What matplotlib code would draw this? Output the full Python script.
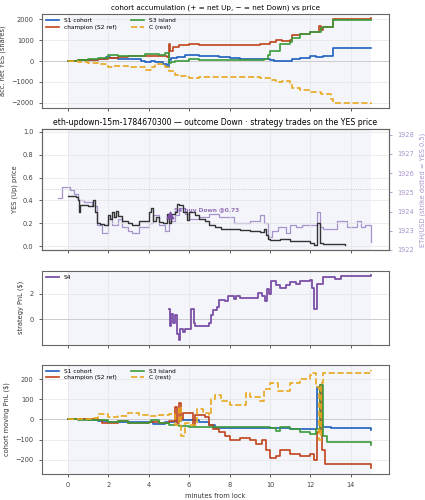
import matplotlib
matplotlib.use("Agg")
import matplotlib.pyplot as plt

# ---- accumulation (net YES shares) ----
acc_s1_t = [0, 0.5, 1.0, 1.5, 1.9, 2.1, 2.5, 3.0, 3.6, 3.8, 4.1, 4.3, 4.7, 4.9, 5.0, 5.1, 5.4, 5.8, 6.0, 6.5, 7.0, 7.5, 8.0, 8.5, 9.0, 9.5, 10.0, 10.2, 10.5, 11.0, 11.1, 11.5, 12.0, 12.3, 12.6, 13.1, 15.0]
acc_s1_v = [0, 30, 60, 80, 200, 150, 100, 100, 0, -60, 0, -50, -150, -300, 50, 150, 200, 300, 280, 250, 250, 200, 150, 100, 80, 80, 60, 0, -20, -20, 100, 150, 250, 200, 250, 600, 600]
acc_ch_t = [0, 0.5, 1.0, 1.5, 2.0, 2.5, 3.0, 3.5, 4.0, 4.5, 4.9, 5.0, 5.05, 5.2, 5.5, 6.0, 6.5, 7.0, 7.5, 8.0, 8.5, 9.0, 9.5, 10.0, 10.3, 10.6, 11.0, 11.1, 11.5, 12.0, 12.4, 12.5, 12.6, 13.1, 15.0]
acc_ch_v = [0, 30, 60, 80, 120, 200, 220, 230, 250, 220, 180, 800, 500, 650, 750, 800, 770, 750, 750, 760, 760, 780, 800, 900, 1000, 950, 1000, 1250, 1300, 1400, 1650, 1500, 1600, 2000, 2050]
acc_s3_t = [0, 0.5, 1.0, 1.5, 2.0, 2.5, 3.0, 3.5, 3.8, 4.2, 4.5, 4.8, 5.0, 5.1, 5.3, 6.0, 6.5, 7.0, 8.0, 9.0, 9.7, 9.9, 10.0, 10.5, 11.0, 11.1, 11.5, 12.0, 12.5, 12.6, 13.1, 15.0]
acc_s3_v = [0, 40, 80, 120, 300, 260, 250, 250, 350, 320, 300, 400, -100, -50, 0, 100, 50, 50, 50, 50, 100, 300, 500, 800, 900, 1100, 1300, 1400, 1550, 1600, 1950, 1950]
acc_c_t = [0, 0.5, 1.0, 1.5, 2.0, 2.3, 3.0, 3.6, 3.8, 4.1, 4.3, 4.8, 5.0, 5.3, 5.6, 6.0, 6.5, 7.0, 8.0, 9.0, 9.5, 10.0, 10.3, 10.6, 11.0, 11.1, 11.5, 12.0, 12.5, 13.0, 13.1, 15.0]
acc_c_v = [0, -40, -100, -150, -280, -250, -270, -300, -450, -300, -150, -280, -500, -650, -700, -800, -780, -750, -750, -760, -800, -900, -1000, -950, -1050, -1300, -1400, -1500, -1550, -1800, -2000, -2050]

# ---- YES (Up) price and ETH/USD ----
yes_t = [0, 0.4, 0.5, 0.55, 0.6, 1.0, 1.25, 1.35, 1.45, 1.6, 1.8, 2.0, 2.1, 2.2, 2.3, 2.4, 2.5, 2.7, 3.0, 3.2, 3.5, 3.9, 4.0, 4.1, 4.2, 4.35, 4.5, 4.7, 4.9, 5.0, 5.1, 5.3, 5.4, 5.5, 5.7, 5.9, 6.0, 6.3, 6.5, 6.8, 7.0, 7.3, 7.6, 8.0, 8.5, 9.0, 9.5, 9.7, 9.8, 9.9, 10.0, 10.5, 11.0, 11.5, 12.0, 12.2, 12.35, 12.45, 12.6, 13.0, 13.7]
yes_v = [0.44, 0.43, 0.40, 0.30, 0.36, 0.35, 0.40, 0.30, 0.20, 0.19, 0.18, 0.27, 0.24, 0.30, 0.25, 0.31, 0.26, 0.22, 0.20, 0.18, 0.22, 0.22, 0.30, 0.33, 0.22, 0.25, 0.21, 0.20, 0.28, 0.20, 0.28, 0.30, 0.37, 0.36, 0.30, 0.23, 0.30, 0.27, 0.24, 0.22, 0.18, 0.17, 0.15, 0.15, 0.14, 0.13, 0.12, 0.15, 0.10, 0.06, 0.05, 0.06, 0.04, 0.04, 0.03, 0.01, 0.20, 0.03, 0.02, 0.02, 0.01]
eth_t = [-0.5, -0.3, 0.1, 0.3, 0.5, 0.8, 1.2, 1.45, 1.7, 2.0, 2.2, 2.5, 2.7, 3.0, 3.2, 3.5, 4.0, 4.2, 4.5, 4.8, 5.0, 5.3, 5.5, 5.8, 6.0, 6.5, 7.0, 7.5, 8.2, 9.0, 9.5, 9.7, 9.9, 10.1, 10.4, 10.8, 11.0, 11.3, 11.6, 12.0, 12.35, 12.45, 12.6, 13.0, 13.3, 13.8, 14.3, 14.5, 14.7, 15.0]
eth_v = [1924.7, 1925.3, 1925.1, 1924.9, 1924.6, 1924.5, 1924.3, 1923.3, 1922.9, 1923.6, 1923.3, 1923.6, 1923.2, 1923.0, 1922.9, 1923.2, 1923.4, 1923.8, 1923.3, 1923.0, 1923.5, 1923.8, 1924.2, 1923.9, 1923.6, 1923.7, 1923.9, 1923.7, 1923.4, 1923.5, 1923.8, 1923.4, 1922.7, 1923.0, 1923.2, 1922.9, 1923.3, 1923.2, 1923.3, 1923.3, 1924.0, 1923.2, 1923.1, 1923.1, 1923.5, 1923.2, 1923.5, 1923.2, 1923.3, 1922.4]
trade_t = [5.05]
trade_p = [0.27]
trade_txt = "S4 buy Down @0.73"

# ---- S4 strategy PnL ----
s4_t = [5.0, 5.05, 5.1, 5.2, 5.3, 5.4, 5.5, 5.55, 5.7, 5.8, 6.0, 6.1, 6.25, 6.3, 6.8, 7.0, 7.1, 7.2, 7.4, 7.5, 7.8, 7.9, 8.2, 8.3, 8.5, 9.3, 9.4, 9.6, 9.75, 9.85, 9.95, 10.05, 10.3, 10.5, 10.8, 11.0, 11.3, 11.5, 12.0, 12.1, 12.2, 12.35, 12.6, 13.2, 13.5, 15.0]
s4_v = [0.8, -0.5, 0.4, -0.3, 0.3, -1.2, -1.6, -0.8, -1.0, -0.8, -0.8, 0.8, -0.3, -0.5, -0.5, -0.3, 0.3, 0.7, 1.0, 1.5, 1.4, 1.8, 1.6, 1.8, 1.7, 1.7, 2.1, 1.8, 1.4, 2.4, 2.0, 3.0, 2.7, 2.5, 2.7, 2.9, 2.8, 3.0, 3.1, 2.5, 0.8, 2.8, 3.3, 3.2, 3.4, 3.5]

# ---- cohort moving PnL ----
pnl_s1_t = [0, 1.0, 1.5, 2.0, 3.0, 4.0, 4.2, 4.8, 5.3, 5.6, 6.0, 6.5, 7.0, 7.3, 8.0, 9.0, 10.0, 11.0, 12.0, 12.35, 12.45, 12.6, 13.0, 14.95, 15.0]
pnl_s1_v = [0, -3, -10, -15, -15, -15, -22, -15, -10, -2, -5, -15, -30, -45, -45, -45, -45, -48, -50, 160, -30, -38, -45, -45, -52]
pnl_ch_t = [0, 1.5, 1.7, 2.5, 3.0, 4.0, 4.5, 5.0, 5.3, 5.4, 5.5, 5.6, 5.7, 6.0, 6.2, 6.3, 6.8, 7.0, 7.2, 7.5, 7.8, 8.0, 8.5, 9.0, 9.3, 9.6, 9.8, 10.0, 10.3, 10.5, 11.0, 11.5, 12.0, 12.2, 12.35, 12.45, 12.55, 12.7, 14.95, 15.0]
pnl_ch_v = [0, -5, -20, -10, -20, -15, -20, -10, 60, -20, 80, 0, 30, 30, -30, 20, 10, -30, -50, -60, -80, -100, -90, -100, -120, -100, -150, -190, -180, -150, -170, -180, -170, -200, -60, 170, -150, -220, -220, -240]
pnl_s3_t = [0, 0.5, 1.5, 2.0, 2.5, 3.0, 4.0, 4.1, 4.5, 5.0, 5.5, 6.0, 7.0, 8.0, 9.5, 10.0, 10.3, 10.5, 11.0, 11.5, 12.0, 12.3, 12.45, 12.6, 12.8, 14.95, 15.0]
pnl_s3_v = [0, -5, -5, -15, -10, -20, -15, -5, -20, -30, -35, -40, -40, -40, -40, -45, -55, -40, -50, -60, -70, -50, 170, -80, -110, -110, -125]
pnl_c_t = [0, 1.0, 1.2, 1.5, 2.0, 2.5, 3.0, 3.5, 4.0, 4.5, 5.0, 5.3, 5.5, 5.6, 5.8, 6.0, 6.4, 6.7, 7.0, 7.1, 7.3, 7.6, 8.0, 8.5, 8.8, 9.0, 9.5, 9.7, 10.0, 10.4, 11.0, 11.5, 12.0, 12.1, 12.3, 12.4, 12.5, 12.6, 13.0, 14.95, 15.0]
pnl_c_v = [0, 0, 5, 25, 10, 15, 30, 20, 15, 20, 25, -30, 60, -80, -20, -30, 50, 30, 20, 100, 120, 90, 70, 70, 130, 110, 90, 150, 180, 140, 180, 200, 220, 230, 160, -100, 180, 230, 230, 230, 245]

C_S1 = "#1f5fbf"
C_CH = "#c0441a"
C_S3 = "#3a9a3a"
C_C = "#e8a820"
C_S4 = "#7b4fa6"
C_ETH = "#a894cc"
SHADE = "#f3f5fa"

plt.rcParams.update({
    "font.size": 5,
    "axes.edgecolor": "#666666",
    "axes.linewidth": 0.8,
    "xtick.color": "#444444",
    "ytick.color": "#444444",
    "xtick.labelsize": 4.8,
    "ytick.labelsize": 4.8,
    "axes.labelsize": 4.8,
    "axes.labelcolor": "#333333",
    "xtick.major.size": 2.5,
    "ytick.major.size": 2.5,
    "xtick.major.width": 0.6,
    "ytick.major.width": 0.6,
})

fig = plt.figure(figsize=(4.25, 5), dpi=100)
L, R = 0.099, 0.915
ax1 = fig.add_axes([L, 0.784, R - L, 0.188])
ax2 = fig.add_axes([L, 0.500, R - L, 0.242], sharex=ax1)
ax3 = fig.add_axes([L, 0.310, R - L, 0.149], sharex=ax1)
ax4 = fig.add_axes([L, 0.053, R - L, 0.218], sharex=ax1)

# right-hand ETH axis sits underneath the YES axis
ax2r = ax2.twinx()
ax2r.set_zorder(0)
ax2.set_zorder(1)
ax2.patch.set_visible(False)
ax2r.patch.set_visible(True)
ax2r.patch.set_facecolor("white")

for ax in (ax1, ax2r, ax3, ax4):
    ax.axvspan(0, 15, color=SHADE, zorder=0, lw=0)
for ax in (ax1, ax2, ax3, ax4):
    ax.grid(True, color="#e4e4e4", lw=0.5, zorder=0.5)
    ax.set_axisbelow(True)
    ax.set_xticks(range(0, 16, 2))

lw = 1.2
step = dict(drawstyle="steps-post", lw=lw)

# panel 1
ax1.axhline(0, color="#cccccc", lw=0.7, zorder=1)
ax1.plot(acc_s1_t, acc_s1_v, color=C_S1, label="S1 cohort", **step)
ax1.plot(acc_ch_t, acc_ch_v, color=C_CH, label="champion (S2 ref)", **step)
ax1.plot(acc_s3_t, acc_s3_v, color=C_S3, label="S3 island", **step)
ax1.plot(acc_c_t, acc_c_v, color=C_C, ls="--", label="C (rest)", **step)
ax1.set_ylim(-2240, 2240)
ax1.set_yticks([-2000, -1000, 0, 1000, 2000])
ax1.set_ylabel("acc. net YES (shares)")
ax1.set_title("cohort accumulation (+ = net Up, \u2212 = net Down) vs price", fontsize=5.2, pad=3)
ax1.legend(loc="upper left", ncol=2, fontsize=4.2, frameon=False, handlelength=2.2, columnspacing=2.5,
           borderaxespad=0.3, labelspacing=0.3)
ax1.tick_params(labelbottom=False)

# panel 2
ax2.axhline(0.5, color="#bbbbbb", lw=0.6, ls=":", zorder=1)
ax2r.plot(eth_t, eth_v, color=C_ETH, lw=0.9, drawstyle="steps-post", zorder=2)
ax2r.set_ylim(1922, 1928.3)
ax2r.set_ylabel("ETH/USD (strike dotted = YES 0.5)", color=C_ETH)
ax2r.tick_params(axis="y", colors=C_ETH)
ax2.plot(yes_t, yes_v, color="#333333", drawstyle="steps-post", lw=1.0)
ax2.set_ylim(-0.035, 1.026)
ax2.set_ylabel("YES (Up) price")
ax2.scatter(trade_t, trade_p, marker="^", s=22, color=C_S4, zorder=5)
ax2.text(trade_t[0] + 0.2, trade_p[0] + 0.02, trade_txt, color=C_S4, fontsize=4.2,
         fontweight="bold", alpha=0.8, va="bottom")
ax2.set_title("eth-updown-15m-1784670300 \u2014 outcome Down \u00b7 strategy trades on the YES price",
              fontsize=5.6, pad=3)
ax2.tick_params(labelbottom=False)

# panel 3
ax3.axhline(0, color="#cccccc", lw=0.7, zorder=1)
ax3.plot(s4_t, s4_v, color=C_S4, label="S4", drawstyle="steps-post", lw=1.3)
ax3.set_ylim(-2.03, 3.84)
ax3.set_yticks([0, 2])
ax3.set_ylabel("strategy PnL ($)")
ax3.legend(loc="upper left", fontsize=4.2, frameon=False, handlelength=2.2, borderaxespad=0.3)
ax3.tick_params(labelbottom=False)

# panel 4
ax4.axhline(0, color="#cccccc", lw=0.7, zorder=1)
ax4.plot(pnl_s1_t, pnl_s1_v, color=C_S1, label="S1 cohort", **step)
ax4.plot(pnl_ch_t, pnl_ch_v, color=C_CH, label="champion (S2 ref)", **step)
ax4.plot(pnl_s3_t, pnl_s3_v, color=C_S3, label="S3 island", **step)
ax4.plot(pnl_c_t, pnl_c_v, color=C_C, ls="--", label="C (rest)", **step)
ax4.set_ylim(-268, 272)
ax4.set_yticks([-200, -100, 0, 100, 200])
ax4.set_ylabel("cohort moving PnL ($)")
ax4.set_xlabel("minutes from lock")
ax4.legend(loc="upper left", ncol=2, fontsize=4.2, frameon=False, handlelength=2.2, columnspacing=2.5,
           borderaxespad=0.3, labelspacing=0.3)

ax1.set_xlim(-1.27, 15.88)

fig.savefig("out.png", dpi=100)
